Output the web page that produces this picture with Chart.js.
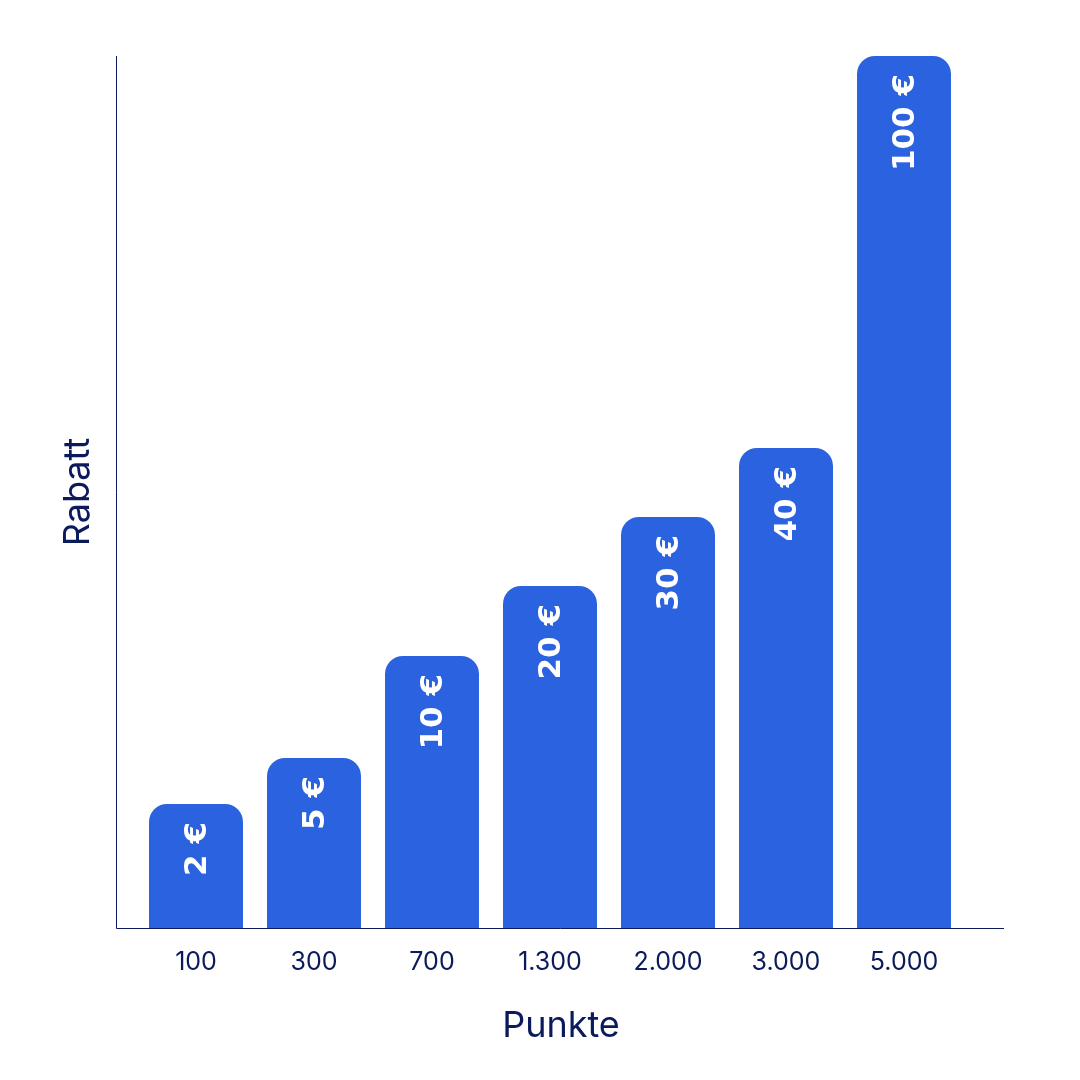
<!DOCTYPE html>
<html>
<head>
<meta charset="utf-8" />
<title>Rabatt Punkte</title>
<style>
  body { margin: 0; background: #fff; }
</style>
</head>
<body>
<canvas id="chartCanvas" width="1080" height="1080"></canvas>
<script src="https://cdn.jsdelivr.net/npm/chart.js@4"></script>
<script>
// categories (points) and the discount shown on each bar
var points = ["100", "300", "700", "1.300", "2.000", "3.000", "5.000"];
var discountLabels = ["2 €", "5 €", "10 €", "20 €", "30 €", "40 €", "100 €"];
// bar heights as drawn in the picture (not proportional to the discount)
var barHeights = [124, 170, 272, 342, 411, 480, 872];
var yMax = 872;

var navy = "#0b1a5a";

var barGradient = function (ctx) {
  var el = ctx.element;
  var area = ctx.chart.chartArea;
  if (!el || !area || el.x === undefined) return "#2a62e0";
  var half = (el.width || 94) / 2;
  var g = ctx.chart.ctx.createLinearGradient(el.x - half, 0, el.x + half, 0);
  g.addColorStop(0, "#3a80f6");
  g.addColorStop(1, "#0a2ea6");
  return g;
};

var overlay = {
  id: "overlay",
  afterDatasetsDraw: function (chart) {
    var c = chart.ctx, a = chart.chartArea;
    var xs = chart.scales.x;
    c.save();
    // axis lines
    c.strokeStyle = navy;
    c.lineWidth = 1;
    c.beginPath();
    c.moveTo(116.5, a.top);
    c.lineTo(116.5, a.bottom + 0.5);
    c.lineTo(1004, a.bottom + 0.5);
    c.stroke();
    // bar value labels
    var meta = chart.getDatasetMeta(0);
    c.fillStyle = "#ffffff";
    c.font = "bold 31px 'DejaVu Sans'";
    c.textAlign = "right";
    c.textBaseline = "middle";
    meta.data.forEach(function (bar, i) {
      c.save();
      c.translate(bar.x + 2, bar.y + 18);
      c.rotate(-Math.PI / 2);
      c.fillText(discountLabels[i], 0, 0);
      c.restore();
    });
    // tick labels
    c.fillStyle = navy;
    c.font = "25px Inter";
    c.textAlign = "center";
    points.forEach(function (p, i) {
      c.fillText(p, xs.getPixelForValue(i), a.bottom + 34);
    });
    // axis titles
    c.font = "36px Inter";
    c.fillText("Punkte", 561, 1026);
    c.save();
    c.translate(78, 492);
    c.rotate(-Math.PI / 2);
    c.fillText("Rabatt", 0, 0);
    c.restore();
    c.restore();
  }
};

new Chart(document.getElementById("chartCanvas"), {
  type: "bar",
  data: {
    labels: points,
    datasets: [{
      data: barHeights,
      backgroundColor: barGradient,
      borderRadius: { topLeft: 18, topRight: 18, bottomLeft: 0, bottomRight: 0 },
      borderSkipped: "bottom",
      categoryPercentage: 1,
      barPercentage: 94 / 118
    }]
  },
  options: {
    responsive: false,
    devicePixelRatio: 1,
    animation: false,
    layout: { padding: { left: 137, right: 117, top: 56, bottom: 152 } },
    plugins: { legend: { display: false }, tooltip: { enabled: false } },
    scales: {
      x: { display: false },
      y: { display: false, min: 0, max: yMax }
    }
  },
  plugins: [overlay]
});
</script>
</body>
</html>
